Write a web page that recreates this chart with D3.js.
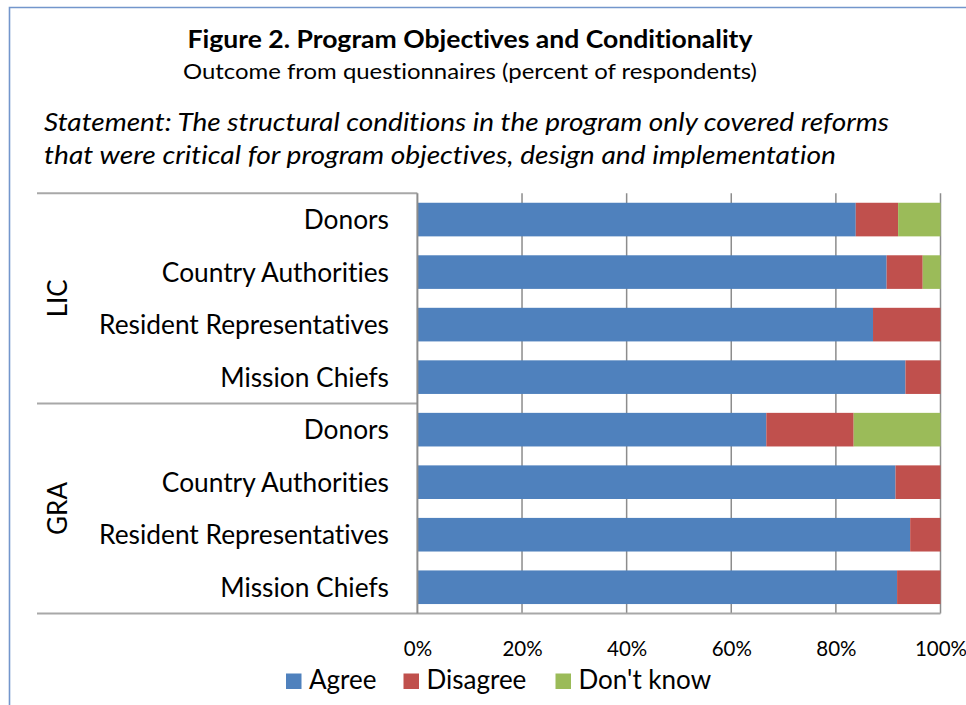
<!DOCTYPE html>
<html>
<head>
<meta charset="utf-8">
<script src="https://cdn.jsdelivr.net/npm/d3@7"></script>
<style>
  html, body { margin: 0; padding: 0; background: #fff; }
  svg { display: block; font-family: Lato, "Open Sans", sans-serif; font-variant-ligatures: none; }
</style>
</head>
<body>
<svg id="chart" width="966" height="705"></svg>
<script>
// ---- data ----
const groups = ["LIC", "GRA"];
const respondents = ["Donors", "Country Authorities", "Resident Representatives", "Mission Chiefs"];
const seriesNames = ["Agree", "Disagree", "Don't know"];
const agreeLIC    = [83.8, 89.7, 87.1, 93.3];
const disagreeLIC = [8.1, 6.9, 12.9, 6.7];
const dontKnowLIC = [8.1, 3.4, 0, 0];
const agreeGRA    = [66.7, 91.4, 94.2, 91.7];
const disagreeGRA = [16.7, 8.6, 5.8, 8.3];
const dontKnowGRA = [16.6, 0, 0, 0];
const tickValues = [0, 20, 40, 60, 80, 100];
const titleText = "Figure 2. Program Objectives and Conditionality";
const subtitleText = "Outcome from questionnaires (percent of respondents)";
const statementLines = [
  "Statement: The structural conditions in the program only covered reforms",
  "that were critical for program objectives, design and implementation"
];

// ---- build table ----
const seriesByGroup = {
  LIC: [agreeLIC, disagreeLIC, dontKnowLIC],
  GRA: [agreeGRA, disagreeGRA, dontKnowGRA]
};
const rows = [];
groups.forEach(g => respondents.forEach((r, i) => {
  const row = { key: g + "|" + r, group: g, label: r };
  seriesNames.forEach((s, k) => row[s] = seriesByGroup[g][k][i]);
  rows.push(row);
}));

const colors = d3.scaleOrdinal().domain(seriesNames).range(["#4f81bd", "#c0504d", "#9bbb59"]);

const svg = d3.select("#chart");
const plot = { left: 417.4, right: 940.5, top: 193.3, bottom: 613.5 };
const x = d3.scaleLinear().domain([0, 100]).range([plot.left, plot.right]);
const y = d3.scaleBand().domain(rows.map(d => d.key)).range([plot.top, plot.bottom])
  .paddingInner(0.36).paddingOuter(0.18);

// chart border
svg.append("path")
  .attr("d", "M9.5,705 L9.5,7.5 L966,7.5")
  .attr("fill", "none").attr("stroke", "#7396cc").attr("stroke-width", 1.6);

// titles
svg.append("text").attr("x", 470).attr("y", 47.5).attr("text-anchor", "middle")
  .attr("font-weight", "bold").attr("font-size", 25.5).attr("fill", "#000")
  .attr("textLength", 565).attr("lengthAdjust", "spacingAndGlyphs").text(titleText);
svg.append("text").attr("x", 470).attr("y", 79).attr("text-anchor", "middle")
  .attr("font-size", 21.5).attr("fill", "#000")
  .attr("textLength", 574).attr("lengthAdjust", "spacingAndGlyphs").text(subtitleText);
const stmtWidths = [845, 792];
statementLines.forEach((t, i) => {
  svg.append("text").attr("x", 44).attr("y", 130.5 + i * 33)
    .attr("font-style", "italic").attr("font-size", 26).attr("fill", "#000")
    .attr("textLength", stmtWidths[i]).attr("lengthAdjust", "spacingAndGlyphs").text(t);
});

// gridlines
svg.append("g").selectAll("line").data(tickValues.filter(v => v > 0)).join("line")
  .attr("x1", d => x(d)).attr("x2", d => x(d))
  .attr("y1", plot.top).attr("y2", plot.bottom)
  .attr("stroke", "#8c8c8c").attr("stroke-width", 1.5);

// bars
const stack = d3.stack().keys(seriesNames)(rows);
svg.append("g").selectAll("g").data(stack).join("g")
  .attr("fill", d => colors(d.key))
  .selectAll("rect").data(d => d).join("rect")
  .attr("x", d => x(d[0]))
  .attr("width", d => Math.max(0, x(d[1]) - x(d[0])))
  .attr("y", d => y(d.data.key))
  .attr("height", y.bandwidth());

// x axis tick labels
const xAxis = d3.axisBottom(x).tickValues(tickValues).tickFormat(d => d + "%").tickSize(0).tickPadding(0);
const gx = svg.append("g").attr("transform", `translate(0,${plot.bottom})`).call(xAxis);
gx.select(".domain").remove();
gx.selectAll("text").attr("font-family", "Lato, sans-serif").attr("font-size", 20.5)
  .attr("fill", "#000").attr("dy", null).attr("y", 42);

// category axis lines
const catLineColor = "#a8a8a8";
const groupBounds = [plot.top, (y(rows[3].key) + y.bandwidth() + y(rows[4].key)) / 2, plot.bottom];
svg.append("g").selectAll("line").data(groupBounds).join("line")
  .attr("x1", 37).attr("x2", (d, i) => i === 2 ? plot.right : plot.left)
  .attr("y1", d => d).attr("y2", d => d)
  .attr("stroke", catLineColor).attr("stroke-width", 2);
svg.append("line").attr("x1", plot.left).attr("x2", plot.left)
  .attr("y1", plot.top).attr("y2", plot.bottom)
  .attr("stroke", "#8c8c8c").attr("stroke-width", 2);

// category labels
svg.append("g").selectAll("text").data(rows).join("text")
  .attr("x", 389).attr("y", d => y(d.key) + y.bandwidth() / 2 + 9.5)
  .attr("text-anchor", "end").attr("font-size", 26.3).attr("fill", "#000")
  .text(d => d.label);

// group labels
groups.forEach((g, i) => {
  const cy = (groupBounds[i] + groupBounds[i + 1]) / 2;
  svg.append("text").attr("transform", `translate(66.5,${cy}) rotate(-90)`)
    .attr("text-anchor", "middle").attr("font-size", 26).attr("fill", "#000").text(g);
});

// legend
const legendX = [286, 403.5, 555.5];
const lg = svg.append("g").selectAll("g").data(seriesNames).join("g")
  .attr("transform", (d, i) => `translate(${legendX[i]},673.5)`);
lg.append("rect").attr("width", 15.5).attr("height", 15.5).attr("fill", d => colors(d));
lg.append("text").attr("x", 23).attr("y", 15.8).attr("font-size", 26).attr("fill", "#000").text(d => d);
</script>
</body>
</html>
